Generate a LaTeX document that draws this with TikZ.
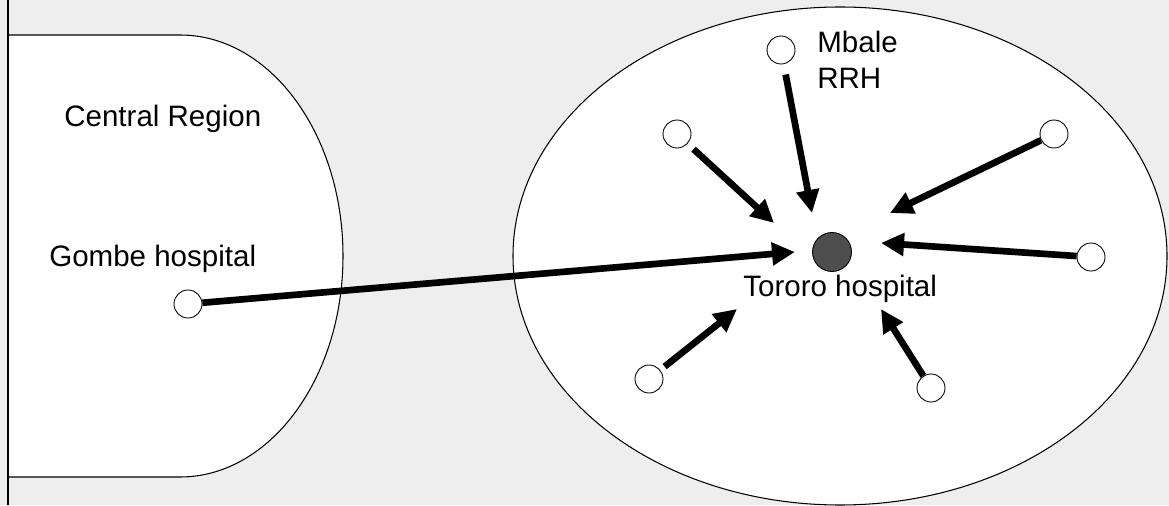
\documentclass[tikz,border=0pt]{standalone}
\usepackage{fontspec}
\setmainfont{Liberation Sans}
\usetikzlibrary{arrows.meta}
\definecolor{bggray}{HTML}{EEEEEE}
\definecolor{hubgray}{HTML}{4D4D4D}

\begin{document}
\begin{tikzpicture}[
    site/.style={circle,draw,fill=white,line width=0.5pt,minimum size=0.56cm,inner sep=0pt},
    hub/.style={circle,draw,fill=hubgray,line width=0.5pt,minimum size=0.78cm,inner sep=0pt},
    lbl/.style={anchor=base west,inner sep=0pt,font=\fontsize{16.8}{20.5}\selectfont},
    link/.style={line width=3.8pt,-{Triangle[length=0.46cm,width=0.44cm]}}
  ]
                      \useasboundingbox (0,0) rectangle (23.38,10.1);
                      \fill [color=bggray] (0,0) rectangle (23.38,10.1);
                      \draw [fill=white,line width=0.6pt] (0.16,9.4) -- (3.6,9.4) arc [start angle=90,end angle=-90,x radius=3.26,y radius=4.42] -- (0.16,0.56) -- cycle;
                      \draw [fill=white,line width=0.6pt] (16.8,4.98) ellipse [x radius=6.54,y radius=4.98];
                      \draw [line width=1.1pt] (0.16,0) -- (0.16,10.1);

                      \node [lbl] (central) at (1.28,7.56) {Central Region};
                      \node [lbl] (gombe-lbl) at (0.98,4.76) {Gombe hospital};
                      \node [lbl,anchor=north west,align=left] (mbale-lbl) at (16.34,9.49) {Mbale\\RRH};
                      \node [lbl] (tororo-lbl) at (14.86,4.16) {Tororo hospital};

                      \node [site] (gombe) at (3.76,4.02) {};
                      \node [site] (mbale) at (15.62,9.10) {};
                      \node [site] (nw) at (13.54,7.42) {};
                      \node [site] (ne) at (21.08,7.42) {};
                      \node [site] (east) at (21.82,4.96) {};
                      \node [site] (sw) at (12.98,2.52) {};
                      \node [site] (se) at (18.62,2.34) {};
                      \node [hub] (tororo) at (16.64,5.06) {};

                      \coordinate (gombe-in) at (15.9,5.06);
                      \coordinate (mbale-in) at (16.24,5.84);
                      \coordinate (nw-in) at (15.48,5.64);
                      \coordinate (ne-in) at (17.8,5.84);
                      \coordinate (east-in) at (17.62,5.24);
                      \coordinate (sw-in) at (14.74,3.92);
                      \coordinate (se-in) at (17.62,3.92);

                      \draw [link] (gombe) -- (gombe-in);
                      \draw [link,shorten <=0.21cm] (mbale) -- (mbale-in);
                      \draw [link,shorten <=0.16cm] (nw) -- (nw-in);
                      \draw [link] (ne) -- (ne-in);
                      \draw [link] (east) -- (east-in);
                      \draw [link,shorten <=0.11cm] (sw) -- (sw-in);
                      \draw [link] (se) -- (se-in);
                  \end{tikzpicture}
\end{document}
